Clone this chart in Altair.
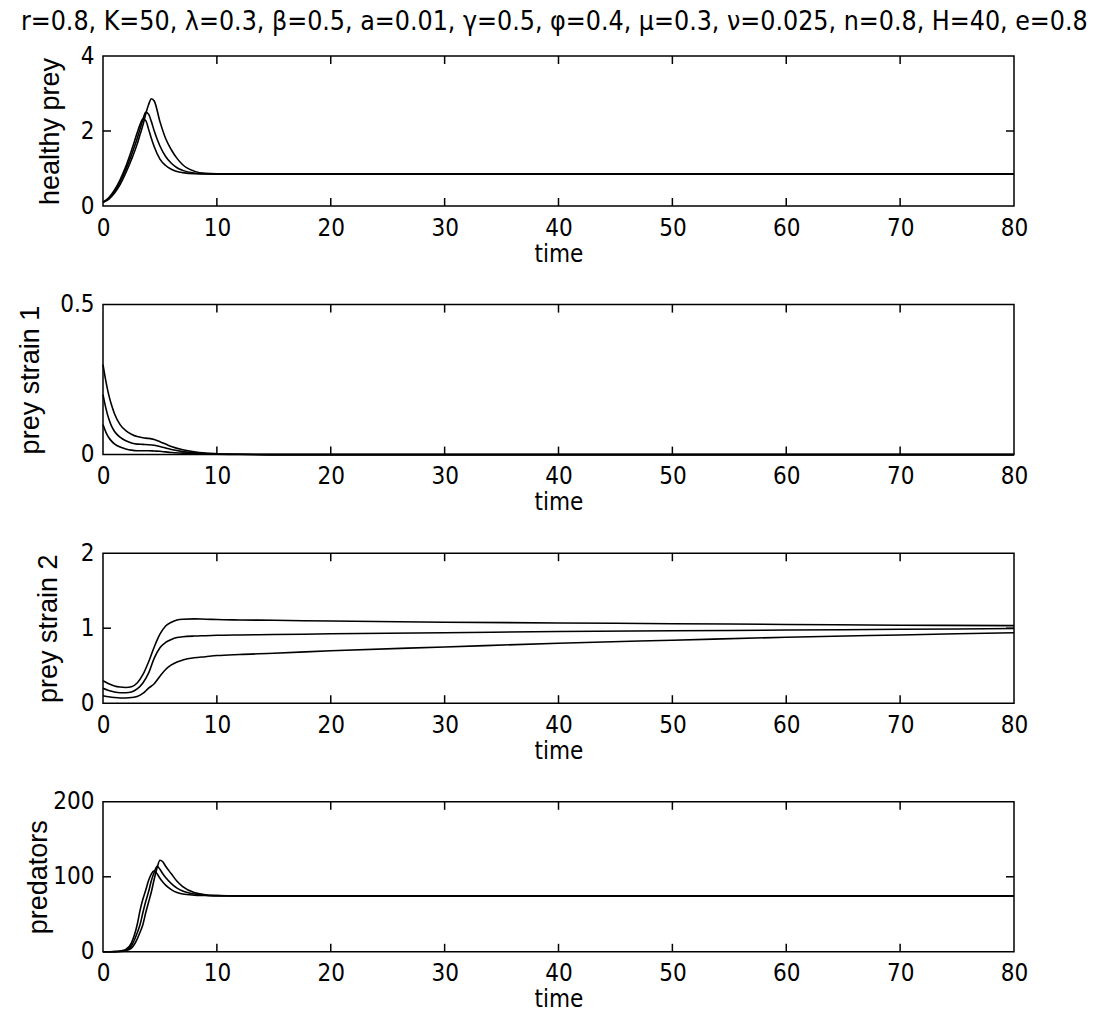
import altair as alt
import pandas as pd

TITLE = "r=0.8, K=50, λ=0.3, β=0.5, a=0.01, γ=0.5, φ=0.4, μ=0.3, ν=0.025, n=0.8, H=40, e=0.8"
X_TICKS = [0, 10, 20, 30, 40, 50, 60, 70, 80]

# healthy prey
T1 = [0, 0.5, 1, 1.5, 2, 2.5, 3, 3.25, 3.5, 3.75, 4, 4.25, 4.5, 5, 5.5, 6, 6.5, 7, 8, 9, 10, 12, 15, 20, 40, 60, 80]
HA = [0.1, 0.22, 0.42, 0.7, 1.05, 1.48, 1.95, 2.17, 2.32, 2.28, 2.05, 1.8, 1.58, 1.25, 1.08, 0.98, 0.92, 0.89, 0.86, 0.855, 0.85, 0.85, 0.85, 0.85, 0.85, 0.85, 0.85]
HB = [0.1, 0.2, 0.38, 0.64, 0.97, 1.36, 1.8, 2.05, 2.3, 2.5, 2.45, 2.25, 2.0, 1.6, 1.32, 1.14, 1.02, 0.95, 0.88, 0.86, 0.855, 0.85, 0.85, 0.85, 0.85, 0.85, 0.85]
HC = [0.1, 0.18, 0.34, 0.57, 0.88, 1.24, 1.65, 1.9, 2.15, 2.45, 2.7, 2.86, 2.8, 2.25, 1.8, 1.5, 1.27, 1.1, 0.93, 0.87, 0.86, 0.855, 0.85, 0.85, 0.85, 0.85, 0.85]

# prey strain 1
T2 = [0, 0.25, 0.5, 0.75, 1, 1.5, 2, 2.5, 3, 3.5, 4, 4.5, 5, 5.5, 6, 7, 8, 9, 10, 12, 15, 20, 40, 60, 80]
S1A = [0.3, 0.245, 0.2, 0.165, 0.137, 0.1, 0.08, 0.068, 0.06, 0.056, 0.054, 0.05, 0.043, 0.035, 0.027, 0.016, 0.009, 0.005, 0.003, 0.001, 0, 0, 0, 0, 0]
S1B = [0.2, 0.155, 0.12, 0.095, 0.078, 0.058, 0.046, 0.039, 0.035, 0.034, 0.033, 0.031, 0.027, 0.022, 0.017, 0.01, 0.006, 0.003, 0.002, 0.001, 0, 0, 0, 0, 0]
S1C = [0.1, 0.075, 0.057, 0.045, 0.036, 0.025, 0.019, 0.015, 0.013, 0.013, 0.013, 0.012, 0.011, 0.009, 0.007, 0.005, 0.003, 0.002, 0.001, 0.0005, 0, 0, 0, 0, 0]

# prey strain 2
T3 = [0, 0.5, 1, 1.5, 2, 2.5, 3, 3.5, 4, 4.5, 5, 5.5, 6, 6.5, 7, 8, 9, 10, 12, 15, 20, 30, 40, 50, 60, 70, 80]
S2A = [0.3, 0.26, 0.23, 0.215, 0.21, 0.22, 0.27, 0.38, 0.55, 0.75, 0.92, 1.03, 1.08, 1.11, 1.12, 1.125, 1.12, 1.115, 1.11, 1.105, 1.095, 1.08, 1.07, 1.06, 1.05, 1.04, 1.035]
S2B = [0.2, 0.17, 0.15, 0.14, 0.14, 0.15, 0.19, 0.27, 0.4, 0.6, 0.74, 0.81, 0.85, 0.875, 0.885, 0.895, 0.9, 0.905, 0.91, 0.915, 0.925, 0.94, 0.955, 0.965, 0.975, 0.985, 0.995]
S2C = [0.1, 0.085, 0.075, 0.07, 0.07, 0.075, 0.09, 0.13, 0.2, 0.26, 0.36, 0.45, 0.51, 0.55, 0.575, 0.605, 0.62, 0.635, 0.65, 0.665, 0.7, 0.75, 0.8, 0.84, 0.88, 0.91, 0.94]

# predators
T4 = [0, 0.5, 1, 1.5, 2, 2.5, 3, 3.25, 3.5, 3.75, 4, 4.25, 4.5, 4.75, 5, 5.25, 5.5, 6, 6.5, 7, 8, 9, 10, 12, 15, 20, 40, 60, 80]
PA = [0, 0.1, 0.3, 1, 3, 12, 36, 55, 70, 82, 95, 104, 108, 104, 98, 93, 89, 83, 79, 77, 75.5, 75, 74.5, 74.5, 74.5, 74.5, 74.5, 74.5, 74.5]
PB = [0, 0.1, 0.2, 0.7, 2, 8, 25, 36, 52, 67, 80, 95, 106, 114, 110, 104, 99, 91, 85, 81, 77, 75.5, 75, 74.5, 74.5, 74.5, 74.5, 74.5, 74.5]
PC = [0, 0.05, 0.15, 0.5, 1.5, 5, 17, 26, 36, 52, 66, 80, 97, 112, 122, 120, 114, 104, 94, 87, 79, 76, 75, 74.5, 74.5, 74.5, 74.5, 74.5, 74.5]

W, H = 911, 150
TICK = 8
FONT_H = "DejaVu Sans Condensed, Liberation Sans"
FONT_V = "Liberation Sans"
LABEL_EXPR = "toString(datum.value)"


def panel(times, curves, ylabel, ydomain, yticks, ytitle_pad):
    rows = []
    for name, vals in curves.items():
        for t, v in zip(times, vals):
            rows.append({"t": t, "v": v, "c": name})
    df = pd.DataFrame(rows)
    xs = alt.Scale(domain=[0, 80], nice=False, zero=False)
    ys = alt.Scale(domain=ydomain, nice=False)
    x = alt.X("t:Q", scale=xs, axis=alt.Axis(values=X_TICKS, title="time", labelExpr=LABEL_EXPR,
                                               labelFlush=False))
    y = alt.Y("v:Q", scale=ys, axis=alt.Axis(values=yticks, title=ylabel, labelExpr=LABEL_EXPR,
                                               labelFlush=False, titlePadding=ytitle_pad))
    lines = alt.Chart(df).mark_line(color="black", strokeWidth=1.6, interpolate="monotone").encode(
        x=x, y=y, detail="c:N")
    xt = pd.DataFrame({"t": X_TICKS[1:-1]})
    yt = pd.DataFrame({"v": yticks[1:-1]})
    tk = dict(color="#000000", thickness=1.5, size=TICK, opacity=1)
    top = alt.Chart(xt).mark_tick(orient="vertical", **tk).encode(
        x=alt.X("t:Q", scale=xs, axis=None), y=alt.value(TICK / 2))
    bot = alt.Chart(xt).mark_tick(orient="vertical", **tk).encode(
        x=alt.X("t:Q", scale=xs, axis=None), y=alt.value(H - TICK / 2))
    left = alt.Chart(yt).mark_tick(orient="horizontal", **tk).encode(
        y=alt.Y("v:Q", scale=ys, axis=None), x=alt.value(TICK / 2))
    right = alt.Chart(yt).mark_tick(orient="horizontal", **tk).encode(
        y=alt.Y("v:Q", scale=ys, axis=None), x=alt.value(W - TICK / 2))
    return alt.layer(lines, top, bot, left, right).resolve_axis(
        x="independent", y="independent").properties(width=W, height=H)


p1 = panel(T1, {"a": HA, "b": HB, "c": HC}, "healthy prey", [0, 4], [0, 2, 4], 16)
p2 = panel(T2, {"a": S1A, "b": S1B, "c": S1C}, "prey strain 1", [0, 0.5], [0, 0.5], 15)
p3 = panel(T3, {"a": S2A, "b": S2B, "c": S2C}, "prey strain 2", [0, 2], [0, 1, 2], 18)
p4 = panel(T4, {"a": PA, "b": PB, "c": PC}, "predators", [0, 200], [0, 100, 200], 0)

chart = alt.vconcat(p1, p2, p3, p4, spacing=24.6).properties(
    title=alt.TitleParams(TITLE, font=FONT_H, fontSize=26.5, fontWeight="normal", color="black",
                          anchor="start", frame="bounds", offset=8, dx=5),
    padding={"left": 7, "top": 0, "right": 0, "bottom": 0}, background="white"
).configure_view(
    stroke="black", strokeWidth=1.5
).configure_axis(
    grid=False, domain=False, tickSize=0, tickOpacity=0, labelColor="black", titleColor="black",
    labelFont=FONT_H, labelFontSize=24, titleFont=FONT_H, titleFontSize=24,
    titleFontWeight="normal", labelPadding=10, titlePadding=2
).configure_axisY(
    titleFont=FONT_V, titleFontSize=27, labelPadding=9
)

chart.save("out.html", embed_options={"renderer": "svg", "actions": False})
